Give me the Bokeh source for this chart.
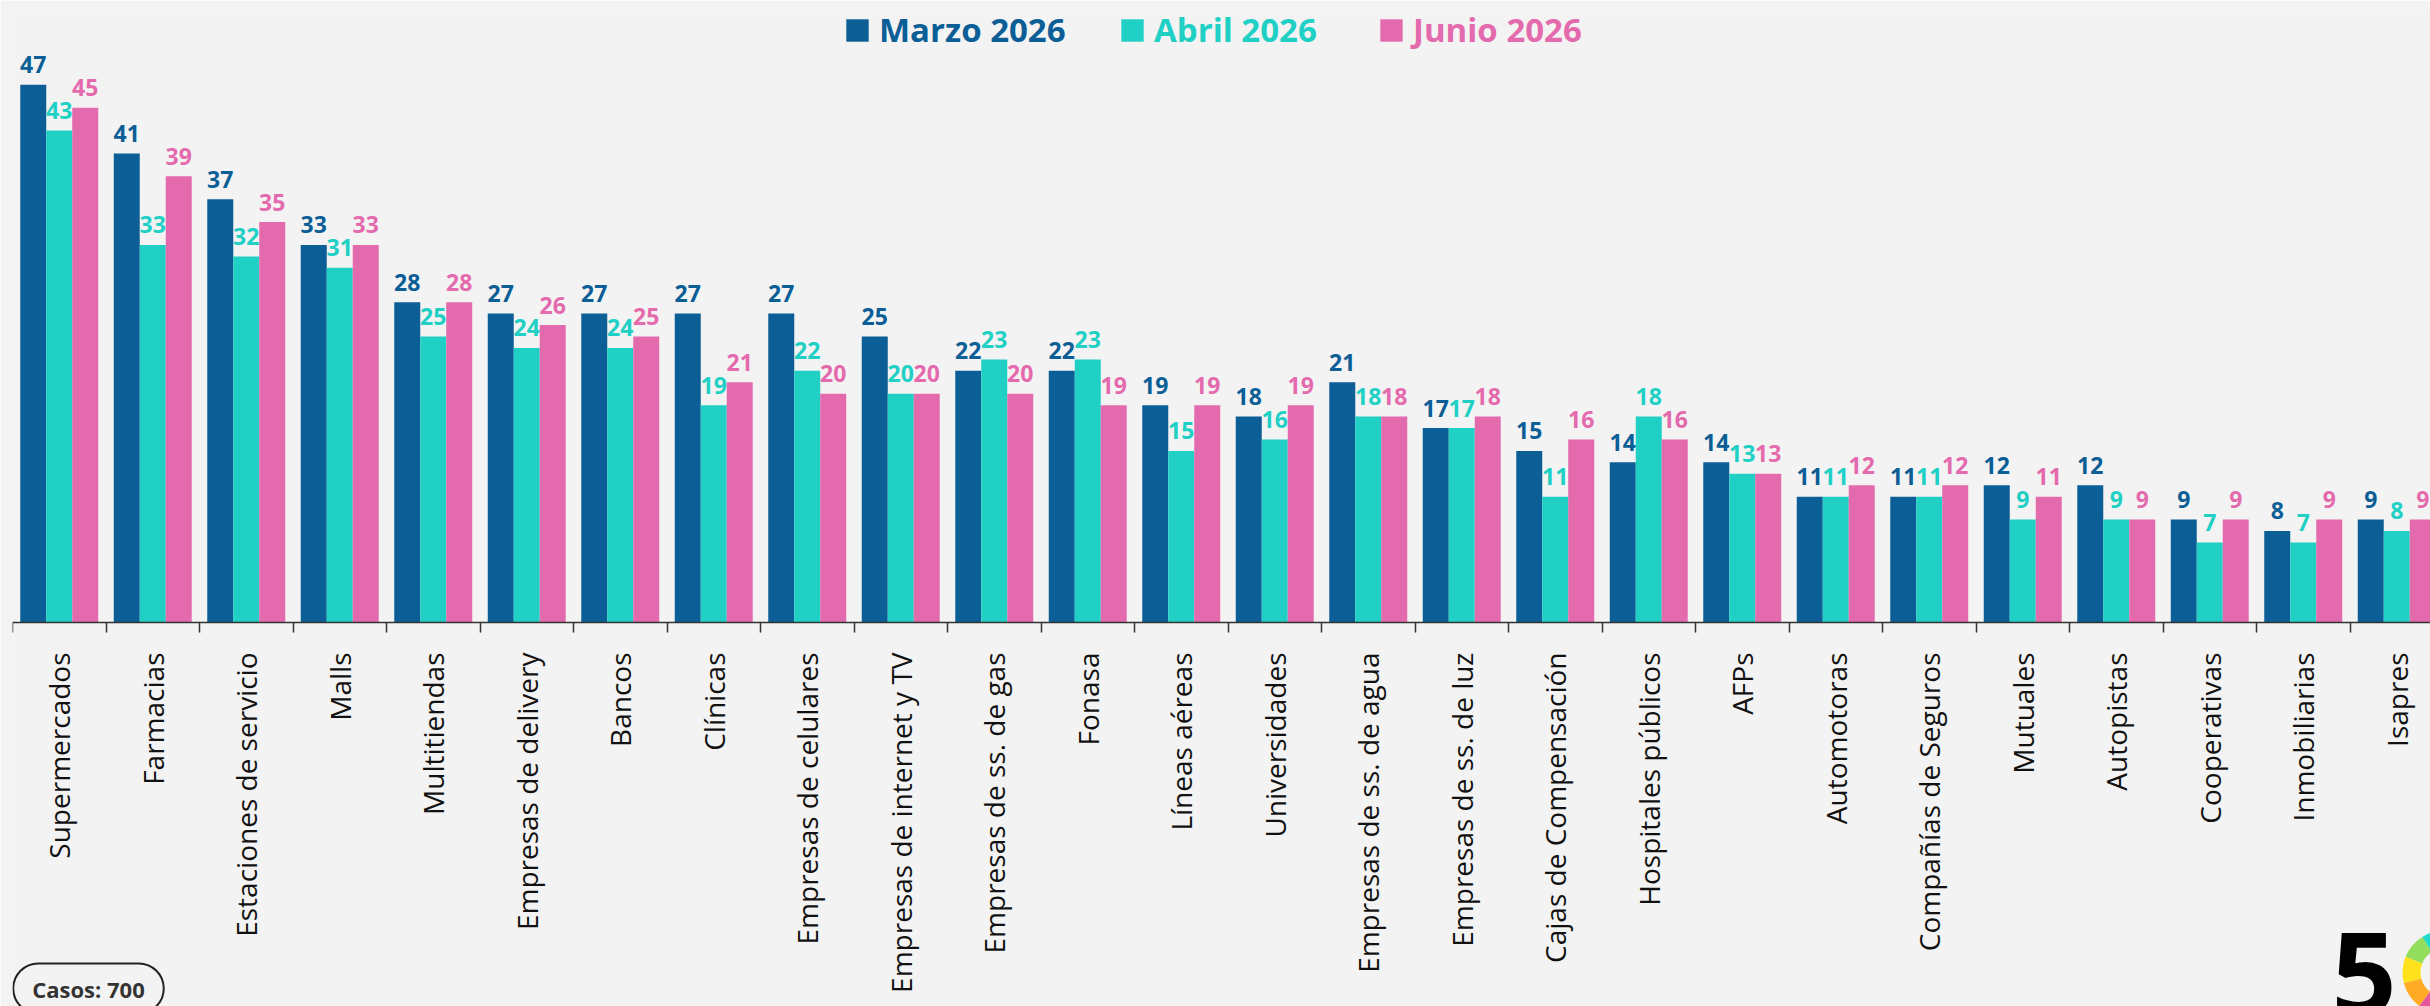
import math
import numpy as np
from bokeh.plotting import figure
from bokeh.models import ColumnDataSource, Range1d, FixedTicker, Legend, LegendItem, Label
from bokeh.core.properties import value
from bokeh.embed import file_html
from bokeh.resources import INLINE

categories = [
    "Supermercados", "Farmacias", "Estaciones de servicio", "Malls", "Multitiendas",
    "Empresas de delivery", "Bancos", "Clínicas", "Empresas de celulares",
    "Empresas de internet y TV", "Empresas de ss. de gas", "Fonasa", "Líneas aéreas",
    "Universidades", "Empresas de ss. de agua", "Empresas de ss. de luz",
    "Cajas de Compensación", "Hospitales públicos", "AFPs", "Automotoras",
    "Compañías de Seguros", "Mutuales", "Autopistas", "Cooperativas",
    "Inmobiliarias", "Isapres",
]
marzo = [47, 41, 37, 33, 28, 27, 27, 27, 27, 25, 22, 22, 19, 18, 21, 17, 15, 14, 14, 11, 11, 12, 12, 9, 8, 9]
abril = [43, 33, 32, 31, 25, 24, 24, 19, 22, 20, 23, 23, 15, 16, 18, 17, 11, 18, 13, 11, 11, 9, 9, 7, 7, 8]
junio = [45, 39, 35, 33, 28, 26, 25, 21, 20, 20, 20, 19, 19, 19, 18, 18, 16, 16, 13, 12, 12, 11, 9, 9, 9, 9]
series_names = ["Marzo 2026", "Abril 2026", "Junio 2026"]
casos_text = "Casos: 700"

colors = ["#0B5E96", "#20D0C5", "#E46AAE"]
logo_colors = ["#1FD9CB", "#93DE5C", "#FFE11C", "#FFAB25", "#E6559C"]
BG = "#F4F3F3"
FONT = "Open Sans"

W, H = 2430, 1006
LEFT, TOP = 12, 8
AXIS_Y = 622            # pixel row of the category axis
PX_PER_CAT = 93.5
PX_PER_UNIT = 11.44
BAR_W = 0.278

n = len(categories)
idx = np.arange(n)


def px_x(px):
    return (px - LEFT) / PX_PER_CAT - 0.5


def px_y(py):
    return (AXIS_Y - py) / PX_PER_UNIT


p = figure(
    width=W, height=H, output_backend="svg", toolbar_location=None,
    x_range=Range1d(px_x(LEFT), px_x(W)),
    y_range=Range1d(px_y(H), px_y(TOP)),
    y_axis_location=None,
    min_border_left=LEFT, min_border_right=0, min_border_top=TOP,
    min_border_bottom=0,
)
p.background_fill_color = BG
p.border_fill_color = BG
p.outline_line_color = None
p.xgrid.grid_line_color = None
p.ygrid.grid_line_color = None

renderers = []
for k, (vals, c) in enumerate(zip([marzo, abril, junio], colors)):
    src = ColumnDataSource(dict(
        x=idx + (k - 1) * BAR_W,
        top=vals,
        label=[str(v) for v in vals],
    ))
    r = p.vbar(x="x", top="top", bottom=0, width=BAR_W, source=src,
               fill_color=c, line_color=None)
    renderers.append(r)
    p.text(x="x", y="top", text="label", source=src, text_align="center",
           text_baseline="alphabetic", y_offset=-20,
           text_font=value(FONT), text_font_style="bold",
           text_font_size="23px", text_color=c)

ax = p.xaxis[0]
ax.fixed_location = 0
ax.ticker = FixedTicker(ticks=[int(i) for i in idx],
                        minor_ticks=[float(i) - 0.5 for i in idx] + [n - 0.5])
ax.major_label_overrides = {int(i): c for i, c in enumerate(categories)}
ax.major_label_orientation = math.pi / 2
ax.major_tick_line_color = None
ax.major_tick_out = 0
ax.major_tick_in = 0
ax.minor_tick_line_color = "#333333"
ax.minor_tick_line_width = 1.5
ax.minor_tick_out = 10
ax.minor_tick_in = 0
ax.axis_line_color = "#333333"
ax.axis_line_width = 1.5
ax.major_label_standoff = 20
ax.major_label_text_font = FONT
ax.major_label_text_font_size = "28px"
ax.major_label_text_color = "#111111"

legend_x = [831, 1106, 1365]
for r, name, c, lx in zip(renderers, series_names, colors, legend_x):
    lg = Legend(items=[LegendItem(label=name, renderers=[r])],
                location=(lx, H - TOP - 6 - 38), orientation="horizontal",
                padding=0, margin=0, spacing=0,
                border_line_color=None, background_fill_alpha=0,
                glyph_width=28, glyph_height=28, label_standoff=8,
                label_text_color=c, label_text_font=FONT,
                label_text_font_style="bold", label_text_font_size="33px")
    p.add_layout(lg)

casos = Label(x=px_x(88), y=px_y(988), text=casos_text,
              text_align="center", text_baseline="middle",
              text_font=FONT, text_font_style="bold", text_font_size="22px",
              text_color="#333333", padding=(19, 10), border_radius=25,
              border_line_color="#222222", border_line_width=2,
              background_fill_color=None)
p.add_layout(casos)

# partial "50" logo in the bottom-right corner
logo = Label(x=px_x(2331), y=px_y(973), text="5", text_align="left",
             text_baseline="alphabetic", text_font=FONT, text_font_style="bold",
             text_font_size="114px", text_color="#000000")
p.add_layout(logo)
ring_start = [70, 122, 158, 195, 233]
ring_end = [122, 158, 195, 233, 285]
p.annular_wedge(x=px_x(2444), y=px_y(972), inner_radius=24, outer_radius=42,
                inner_radius_units="screen", outer_radius_units="screen",
                start_angle=ring_start, end_angle=ring_end, start_angle_units="deg",
                end_angle_units="deg", fill_color=logo_colors, line_color=None)

open("out.html", "w").write(file_html(p, INLINE))
